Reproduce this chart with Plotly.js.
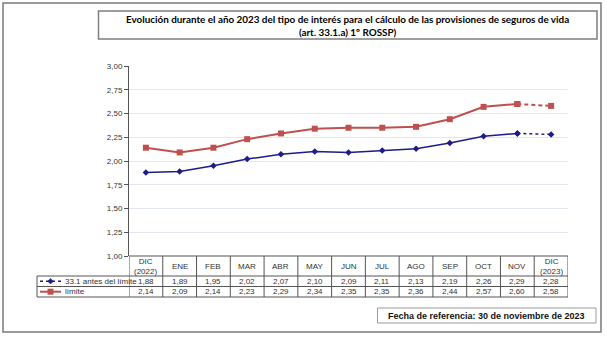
<!DOCTYPE html>
<html>
<head>
<meta charset="utf-8">
<script src="https://cdn.plot.ly/plotly-3.0.1.min.js"></script>
<style>html,body{margin:0;padding:0;background:#fff;}#chart{width:607px;height:339px;}</style>
</head>
<body>
<div id="chart"></div>
<script>
// ---- data ----
const months = ["DIC (2022)", "ENE", "FEB", "MAR", "ABR", "MAY", "JUN", "JUL", "AGO", "SEP", "OCT", "NOV", "DIC (2023)"];
const headerLabels = ["DIC<br>(2022)", "ENE", "FEB", "MAR", "ABR", "MAY", "JUN", "JUL", "AGO", "SEP", "OCT", "NOV", "DIC<br>(2023)"];
const antesLimite = [1.88, 1.89, 1.95, 2.02, 2.07, 2.10, 2.09, 2.11, 2.13, 2.19, 2.26, 2.29, 2.28];
const limite = [2.14, 2.09, 2.14, 2.23, 2.29, 2.34, 2.35, 2.35, 2.36, 2.44, 2.57, 2.60, 2.58];
const seriesNames = ["33.1 antes del límite", "límite"];
const yTicks = [1.00, 1.25, 1.50, 1.75, 2.00, 2.25, 2.50, 2.75, 3.00];

// ---- geometry (pixels) ----
const W = 607, H = 339;
const PL = 129, PR = 568, PT = 66, PB = 256;
const pw = PR - PL, ph = PB - PT;
const px = v => (v - PL) / pw;          // pixel x -> paper x
const py = v => (PB - v) / ph;          // pixel y -> paper y

const n = months.length;
const idx = months.map((_, i) => i);
const last = n - 1;

const blue = "#1c1c8a";
const red = "#c0504d";

function seg(vals, from, to) { return { x: idx.slice(from, to + 1), y: vals.slice(from, to + 1) }; }

const traces = [];
let s = seg(antesLimite, 0, last - 1);
traces.push({ x: s.x, y: s.y, type: "scatter", mode: "lines+markers", name: seriesNames[0],
  line: { color: blue, width: 1.5 }, marker: { symbol: "diamond", size: 5, color: blue }, hoverinfo: "y" });
s = seg(antesLimite, last - 1, last);
traces.push({ x: s.x, y: s.y, type: "scatter", mode: "lines+markers", name: seriesNames[0],
  line: { color: blue, width: 1.5, dash: "3px,3px" }, marker: { symbol: "diamond", size: 5, color: blue }, hoverinfo: "y" });
s = seg(limite, 0, last - 1);
traces.push({ x: s.x, y: s.y, type: "scatter", mode: "lines+markers", name: seriesNames[1],
  line: { color: red, width: 2 }, marker: { symbol: "square", size: 6, color: red }, hoverinfo: "y" });
s = seg(limite, last - 1, last);
traces.push({ x: s.x, y: s.y, type: "scatter", mode: "lines+markers", name: seriesNames[1],
  line: { color: red, width: 2, dash: "4px,3px" }, marker: { symbol: "square", size: 6, color: red }, hoverinfo: "y" });

const fmt = v => v.toFixed(2).replace(".", ",");

const shapes = [];
const annotations = [];
const lineGray = "#555555";

// outer border
shapes.push({ type: "rect", xref: "paper", yref: "paper", x0: px(3), x1: px(601), y0: py(332), y1: py(3),
  line: { color: "#7a7a7a", width: 1.5 }, fillcolor: "rgba(0,0,0,0)" });
// title box
shapes.push({ type: "rect", xref: "paper", yref: "paper", x0: px(98.5), x1: px(597), y0: py(39), y1: py(11),
  line: { color: "#7f7f7f", width: 1.5 }, fillcolor: "rgba(0,0,0,0)" });
// fecha box
shapes.push({ type: "rect", xref: "paper", yref: "paper", x0: px(377.5), x1: px(596), y0: py(323), y1: py(308),
  line: { color: "#9a9a9a", width: 1 }, fillcolor: "rgba(0,0,0,0)" });

// table horizontal lines
shapes.push({ type: "line", xref: "paper", yref: "paper", x0: 0, x1: 1, y0: py(256), y1: py(256), line: { color: lineGray, width: 1 } });
[276, 286.5, 297].forEach(y => shapes.push({ type: "line", xref: "paper", yref: "paper", x0: px(37), x1: 1, y0: py(y), y1: py(y), line: { color: lineGray, width: 1 } }));
// table vertical lines
for (let i = 0; i <= n; i++) {
  shapes.push({ type: "line", xref: "x", yref: "paper", x0: i - 0.5, x1: i - 0.5, y0: py(256), y1: py(297), line: { color: lineGray, width: 1 } });
}
shapes.push({ type: "line", xref: "paper", yref: "paper", x0: px(37), x1: px(37), y0: py(276), y1: py(297), line: { color: lineGray, width: 1 } });

// legend icons inside table
const r1 = 281.2, r2 = 291.7;
shapes.push({ type: "line", xref: "paper", yref: "paper", x0: px(40), x1: px(61), y0: py(r1), y1: py(r1), line: { color: blue, width: 1.5, dash: "3px,3px" } });
shapes.push({ type: "path", xref: "paper", yref: "paper",
  path: `M ${px(50.5)} ${py(r1 - 2.8)} L ${px(53.3)} ${py(r1)} L ${px(50.5)} ${py(r1 + 2.8)} L ${px(47.7)} ${py(r1)} Z`,
  fillcolor: blue, line: { color: blue, width: 0.5 } });
shapes.push({ type: "line", xref: "paper", yref: "paper", x0: px(40), x1: px(61), y0: py(r2), y1: py(r2), line: { color: red, width: 2 } });
shapes.push({ type: "rect", xref: "paper", yref: "paper", x0: px(47.5), x1: px(53.5), y0: py(r2 + 3), y1: py(r2 - 3),
  fillcolor: red, line: { color: red, width: 0 } });

const tFont = { family: "Liberation Sans, Arial, sans-serif", size: 8, color: "#333333" };
annotations.push({ xref: "paper", yref: "paper", x: px(63), y: py(r1), text: seriesNames[0], showarrow: false, xanchor: "left", yanchor: "middle", font: tFont });
annotations.push({ xref: "paper", yref: "paper", x: px(63), y: py(r2), text: seriesNames[1], showarrow: false, xanchor: "left", yanchor: "middle", font: tFont });

idx.forEach(i => {
  annotations.push({ xref: "x", yref: "paper", x: i, y: py(266), text: headerLabels[i], showarrow: false, xanchor: "center", yanchor: "middle", font: tFont });
  annotations.push({ xref: "x", yref: "paper", x: i, y: py(r1), text: fmt(antesLimite[i]), showarrow: false, xanchor: "center", yanchor: "middle", font: tFont });
  annotations.push({ xref: "x", yref: "paper", x: i, y: py(r2), text: fmt(limite[i]), showarrow: false, xanchor: "center", yanchor: "middle", font: tFont });
});

// title
annotations.push({ xref: "paper", yref: "paper", x: px(347.5), y: py(25), showarrow: false, xanchor: "center", yanchor: "middle",
  text: "<b>Evolución durante el año 2023 del tipo de interés para el cálculo de las provisiones de seguros de vida</b><br><b>(art. 33.1.a) 1º ROSSP)</b>",
  font: { family: "Lato, Open Sans, sans-serif", size: 9.9, color: "#000000" } });
// fecha
annotations.push({ xref: "paper", yref: "paper", x: px(486.5), y: py(315.5), showarrow: false, xanchor: "center", yanchor: "middle",
  text: "<b>Fecha de referencia: 30 de noviembre de 2023</b>",
  font: { family: "Liberation Sans, Arial, sans-serif", size: 9, color: "#111111" } });

const layout = {
  width: W, height: H,
  margin: { l: PL, r: W - PR, t: PT, b: H - PB, pad: 0 },
  paper_bgcolor: "#ffffff", plot_bgcolor: "#ffffff",
  showlegend: false,
  separators: ",.",
  xaxis: { range: [-0.5, n - 0.5], showticklabels: false, showgrid: false, zeroline: false, showline: false, ticks: "", fixedrange: true },
  yaxis: { range: [1, 3], tickvals: yTicks, tickformat: ".2f", showgrid: true, gridcolor: "#e2e7f1", gridwidth: 1,
    zeroline: false, showline: true, linecolor: "#555555", linewidth: 1, ticks: "outside", ticklen: 4, tickcolor: "#555555",
    tickfont: { family: "Liberation Sans, Arial, sans-serif", size: 8, color: "#333333" }, fixedrange: true },
  shapes: shapes,
  annotations: annotations
};

Plotly.newPlot("chart", traces, layout, { displayModeBar: false, staticPlot: true });
</script>
</body>
</html>
